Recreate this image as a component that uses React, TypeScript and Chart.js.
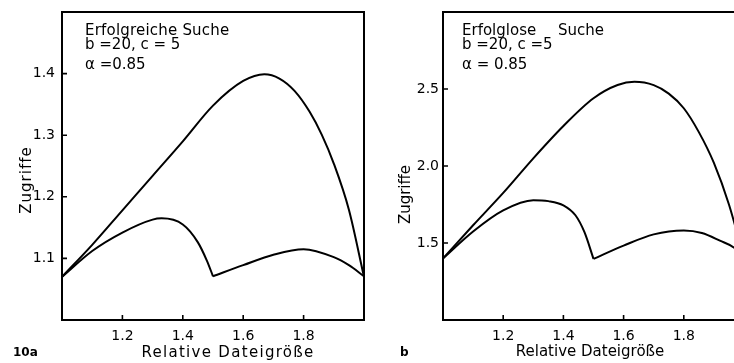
import React, { useEffect, useRef } from "react";
import { Chart, registerables } from "chart.js";

Chart.register(...registerables);

// ---------------- data ----------------
// Panel 10a: Erfolgreiche Suche
const leftUpperX = [1.0, 1.1, 1.2, 1.3, 1.4, 1.5, 1.6, 1.67, 1.72, 1.77, 1.82, 1.86, 1.9, 1.95, 2.0];
const leftUpperY = [1.07, 1.122, 1.178, 1.234, 1.29, 1.348, 1.388, 1.399, 1.392, 1.372, 1.338, 1.301, 1.254, 1.179, 1.07];
const leftLowerAX = [1.0, 1.1, 1.2, 1.3, 1.33, 1.4, 1.45, 1.48, 1.5];
const leftLowerAY = [1.07, 1.112, 1.142, 1.163, 1.165, 1.155, 1.126, 1.096, 1.071];
const leftLowerBX = [1.5, 1.6, 1.7, 1.8, 1.9, 1.95, 2.0];
const leftLowerBY = [1.071, 1.089, 1.106, 1.115, 1.102, 1.089, 1.071];

// Panel b: Erfolglose Suche
const rightUpperX = [1.0, 1.1, 1.2, 1.3, 1.4, 1.5, 1.58, 1.636, 1.7, 1.75, 1.8, 1.85, 1.9, 1.95, 2.0];
const rightUpperY = [1.4, 1.615, 1.825, 2.05, 2.26, 2.44, 2.526, 2.547, 2.525, 2.47, 2.375, 2.22, 2.02, 1.75, 1.4];
const rightLowerAX = [1.0, 1.1, 1.2, 1.3, 1.35, 1.4, 1.44, 1.47, 1.5];
const rightLowerAY = [1.4, 1.575, 1.712, 1.778, 1.772, 1.745, 1.68, 1.57, 1.397];
const rightLowerBX = [1.5, 1.6, 1.7, 1.8, 1.86, 1.92, 1.97, 2.0];
const rightLowerBY = [1.397, 1.483, 1.556, 1.581, 1.565, 1.515, 1.466, 1.4];

// axis ranges / tick steps
const xRange = [1.0, 2.0];
const xStep = 0.2;
const leftYRange = [1.0, 1.5];
const leftYStep = 0.1;
const rightYRange = [1.0, 3.0];
const rightYStep = 0.5;

// texts
const xAxisTitle = "Relative Dateigröße";
const yAxisTitle = "Zugriffe";
const leftNotes = ["Erfolgreiche Suche", "b =20, c = 5", "α =0.85"];
const rightNotes = ["Erfolglose", "Suche", "b =20, c =5", "α = 0.85"];
const leftTag = "10a";
const rightTag = "b";

// ---------------- component ----------------
type TextItem = {
  text: string;
  x: number;
  y: number;
  size: number;
  bold?: boolean;
  spacing?: number;
  align?: CanvasTextAlign;
  rotate?: boolean;
};

type Series = { x: number[]; y: number[] };

type PanelProps = {
  canvasLeft: number;
  width: number;
  height: number;
  area: { left: number; right: number; top: number; bottom: number };
  yRange: number[];
  yStep: number;
  series: Series[];
  texts: TextItem[];
  yLabelPad: number;
};

const FONT = '"DejaVu Sans", "Liberation Sans", sans-serif';

function Panel(props: PanelProps) {
  const ref = useRef<HTMLCanvasElement | null>(null);
  useEffect(() => {
    const { width, height, area, yRange, yStep, series, texts, yLabelPad } = props;
    const frameTicks = {
      id: "frameTicks",
      afterDatasetsDraw(chart: any) {
        const { ctx, chartArea: a } = chart;
        ctx.save();
        ctx.strokeStyle = "#000";
        ctx.lineWidth = 2;
        ctx.strokeRect(a.left, a.top, a.right - a.left, a.bottom - a.top);
        ctx.lineWidth = 1.6;
        const xs = chart.scales.x;
        const ys = chart.scales.y;
        ctx.beginPath();
        xs.ticks.forEach((t: any) => {
          const px = xs.getPixelForValue(t.value);
          ctx.moveTo(px, a.bottom);
          ctx.lineTo(px, a.bottom - 5);
        });
        ys.ticks.forEach((t: any) => {
          const py = ys.getPixelForValue(t.value);
          ctx.moveTo(a.left, py);
          ctx.lineTo(a.left + 5, py);
        });
        ctx.stroke();
        ctx.restore();
      },
    };
    const textPlugin = {
      id: "texts",
      afterDraw(chart: any) {
        const ctx = chart.ctx as CanvasRenderingContext2D;
        texts.forEach((t) => {
          ctx.save();
          ctx.fillStyle = "#000";
          ctx.font = `${t.bold ? "bold " : ""}${t.size}px ${FONT}`;
          (ctx as any).letterSpacing = `${t.spacing || 0}px`;
          ctx.textAlign = t.align || "left";
          if (t.rotate) {
            ctx.textBaseline = "middle";
            ctx.translate(t.x, t.y);
            ctx.rotate(-Math.PI / 2);
            ctx.fillText(t.text, 0, 0);
          } else {
            ctx.textBaseline = "alphabetic";
            ctx.fillText(t.text, t.x, t.y);
          }
          ctx.restore();
        });
      },
    };
    const dropEnds = (scale: any) => {
      scale.ticks = scale.ticks.filter(
        (t: any) => t.value > scale.min + 1e-9 && t.value < scale.max - 1e-9
      );
    };
    const zeroPad = (s: any) => {
      s.paddingTop = 0;
      s.paddingBottom = 0;
      s.paddingLeft = 0;
      s.paddingRight = 0;
    };
    const chart = new Chart(ref.current as HTMLCanvasElement, {
      type: "line",
      data: {
        datasets: series.map((s) => ({
          data: s.x.map((x, i) => ({ x, y: s.y[i] })),
          borderColor: "#000",
          borderWidth: 2,
          pointRadius: 0,
          fill: false,
          cubicInterpolationMode: "monotone" as const,
        })),
      },
      options: {
        animation: false,
        responsive: false,
        devicePixelRatio: 1,
        layout: {
          padding: { left: 0, top: area.top, right: width - area.right, bottom: 0 },
        },
        plugins: { legend: { display: false }, tooltip: { enabled: false } },
        scales: {
          x: {
            type: "linear",
            min: xRange[0],
            max: xRange[1],
            grid: { display: false, drawTicks: false },
            border: { display: false },
            ticks: {
              stepSize: xStep,
              padding: 8,
              color: "#000",
              font: { family: FONT, size: 14 },
              callback: (v: any) => Number(v).toFixed(1),
            },
            afterBuildTicks: dropEnds,
            afterFit: (s: any) => {
              s.height = height - area.bottom;
              zeroPad(s);
            },
          },
          y: {
            type: "linear",
            min: yRange[0],
            max: yRange[1],
            grid: { display: false, drawTicks: false },
            border: { display: false },
            ticks: {
              stepSize: yStep,
              padding: yLabelPad,
              color: "#000",
              font: { family: FONT, size: 14 },
              callback: (v: any) => Number(v).toFixed(1),
            },
            afterBuildTicks: dropEnds,
            afterFit: (s: any) => {
              s.width = area.left;
              zeroPad(s);
            },
          },
        },
      },
      plugins: [frameTicks, textPlugin],
    } as any);
    return () => chart.destroy();
  }, []);
  return (
    <canvas
      ref={ref}
      width={props.width}
      height={props.height}
      style={{ position: "absolute", left: props.canvasLeft, top: 0, width: props.width, height: props.height }}
    />
  );
}

export default function App() {
  const leftTexts: TextItem[] = [
    { text: leftNotes[0], x: 85, y: 35, size: 15, spacing: 0.2 },
    { text: leftNotes[1], x: 85, y: 49, size: 15 },
    { text: leftNotes[2], x: 85, y: 69, size: 15 },
    { text: xAxisTitle, x: 228, y: 357, size: 15, spacing: 1.3, align: "center" },
    { text: yAxisTitle, x: 27, y: 180, size: 15, spacing: 1, align: "center", rotate: true },
    { text: leftTag, x: 13, y: 356, size: 12, bold: true },
  ];
  const rightTexts: TextItem[] = [
    { text: rightNotes[0], x: 92, y: 35, size: 15 },
    { text: rightNotes[1], x: 188, y: 35, size: 15 },
    { text: rightNotes[2], x: 92, y: 48.5, size: 15 },
    { text: rightNotes[3], x: 92, y: 68.5, size: 15 },
    { text: xAxisTitle, x: 220, y: 356, size: 15, align: "center" },
    { text: yAxisTitle, x: 36, y: 194.5, size: 15, align: "center", rotate: true },
    { text: rightTag, x: 30, y: 356, size: 12, bold: true },
  ];
  return (
    <div
      style={{
        position: "fixed",
        left: 0,
        top: 0,
        width: 734,
        height: 363,
        overflow: "hidden",
        background: "#fff",
      }}
    >
      <Panel
        canvasLeft={0}
        width={372}
        height={363}
        area={{ left: 62, right: 364, top: 12, bottom: 320 }}
        yRange={leftYRange}
        yStep={leftYStep}
        yLabelPad={7}
        series={[
          { x: leftUpperX, y: leftUpperY },
          { x: leftLowerAX, y: leftLowerAY },
          { x: leftLowerBX, y: leftLowerBY },
        ]}
        texts={leftTexts}
      />
      <Panel
        canvasLeft={370}
        width={380}
        height={363}
        area={{ left: 73, right: 374, top: 12, bottom: 320 }}
        yRange={rightYRange}
        yStep={rightYStep}
        yLabelPad={4}
        series={[
          { x: rightUpperX, y: rightUpperY },
          { x: rightLowerAX, y: rightLowerAY },
          { x: rightLowerBX, y: rightLowerBY },
        ]}
        texts={rightTexts}
      />
    </div>
  );
}
